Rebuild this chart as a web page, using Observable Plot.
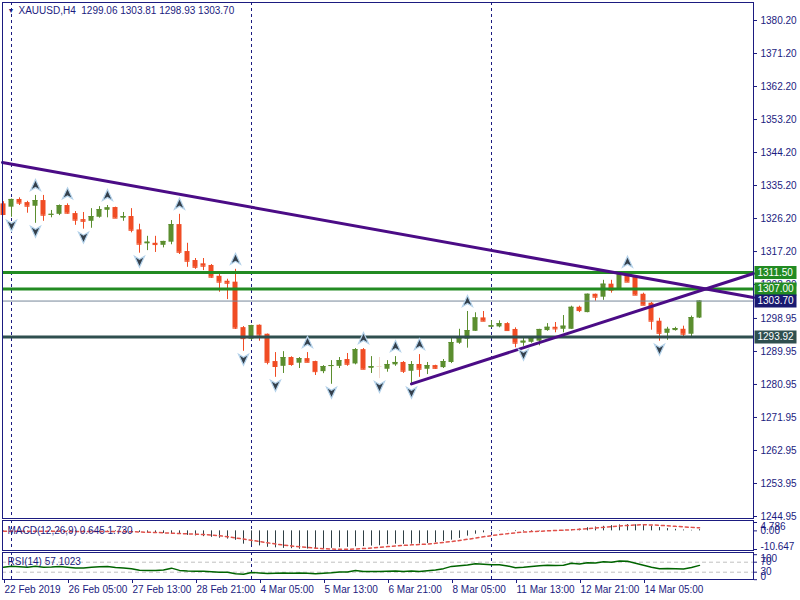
<!DOCTYPE html>
<html><head><meta charset="utf-8">
<script src="https://cdn.jsdelivr.net/npm/d3@7"></script>
<script src="https://cdn.jsdelivr.net/npm/@observablehq/plot@0.6"></script>
<style>
html,body{margin:0;padding:0;background:#fff;}
#chart{position:relative;width:800px;height:600px;overflow:hidden;}
#chart svg{position:absolute;left:0;overflow:visible;}
</style></head><body><div id="chart"></div>
<script>
// ---------- data ----------
const symbolName = "XAUUSD,H4";
const lastQuote = ["1299.06", "1303.81", "1298.93", "1303.70"];

const opens  = [1330.2,1329.3,1331.4,1330.55,1329.55,1331.1,1327.1,1327.35,1329.75,1327.55,1325.9,1325.45,1326.55,1328.45,1329.2,1326.3,1326.75,1323.1,1319.3,1319.45,1318.9,1319.75,1324.55,1317.2,1314.75,1313.85,1313.4,1310.45,1309.1,1308.85,1296.45,1293.3,1297.1,1294.65,1287.2,1285.9,1288.3,1286.75,1288.0,1287.2,1284.45,1285.85,1285.9,1287.75,1286.55,1290.45,1285.35,1285.85,1285.1,1286.3,1286.95,1284.55,1286.4,1285.1,1286.1,1285.55,1286.95,1292.2,1293.3,1295.45,1299.1,1296.55,1296.65,1297.55,1295.95,1292.2,1292.45,1292.75,1295.65,1296.55,1296.0,1296.0,1302.0,1300.55,1305.55,1304.75,1308.3,1306.65,1311.3,1310.2,1305.55,1303.1,1298.2,1294.9,1295.65,1296.0,1294.65,1299.06];
const highs  = [1330.8,1331.5,1331.85,1330.9,1332.5,1332.5,1328.4,1329.9,1330.2,1328.1,1327.85,1328.9,1329.45,1329.75,1329.3,1327.85,1328.9,1324.65,1321.35,1321.35,1320.0,1325.65,1327.35,1319.45,1315.3,1315.3,1313.65,1311.0,1309.65,1312.35,1296.75,1297.1,1297.2,1294.7,1289.65,1289.9,1288.5,1288.3,1289.65,1287.3,1286.1,1287.45,1288.3,1289.4,1290.75,1290.75,1288.55,1288.3,1287.45,1288.55,1287.2,1287.2,1289.1,1286.95,1286.2,1287.75,1293.45,1296.0,1300.85,1300.5,1300.85,1298.3,1298.3,1297.8,1296.4,1293.65,1294.0,1296.0,1297.55,1297.85,1299.75,1302.3,1302.3,1305.6,1305.6,1309.35,1309.35,1311.55,1311.55,1310.25,1305.85,1303.35,1299.0,1296.55,1296.55,1296.85,1299.6,1303.81];
const lows   = [1327.0,1326.55,1329.75,1327.65,1324.9,1325.45,1326.4,1327.0,1327.4,1324.35,1323.3,1323.55,1326.3,1326.4,1326.2,1325.45,1322.3,1316.75,1317.45,1316.95,1318.2,1319.05,1316.4,1312.9,1312.35,1312.0,1309.9,1306.1,1304.1,1295.95,1290.0,1293.0,1292.75,1286.3,1282.9,1283.95,1285.9,1285.3,1286.9,1283.4,1283.9,1281.0,1285.3,1285.9,1286.3,1285.0,1283.95,1282.55,1284.3,1285.9,1283.95,1281.0,1282.9,1283.65,1285.1,1285.3,1286.65,1291.9,1290.85,1295.4,1298.1,1296.4,1296.4,1295.6,1290.95,1291.35,1292.2,1291.5,1295.45,1295.05,1295.05,1296.0,1300.55,1300.5,1303.65,1303.9,1305.85,1306.6,1308.8,1305.2,1302.5,1295.75,1292.75,1293.0,1295.5,1293.85,1293.85,1298.93];
const closes = [1327.3,1331.4,1330.4,1329.55,1331.1,1327.1,1327.35,1329.75,1327.65,1325.75,1325.45,1326.75,1328.65,1329.1,1326.3,1326.75,1323.0,1319.2,1319.75,1319.1,1319.95,1324.55,1317.0,1314.55,1312.9,1313.2,1310.2,1308.85,1308.55,1296.3,1293.45,1297.0,1294.4,1287.0,1285.85,1288.3,1286.4,1288.0,1287.0,1284.45,1285.85,1286.1,1287.45,1286.45,1290.45,1285.1,1285.85,1285.85,1286.4,1286.95,1284.55,1286.4,1285.1,1286.1,1285.35,1287.2,1292.4,1293.55,1295.65,1299.1,1298.2,1296.95,1297.55,1295.65,1292.2,1292.75,1293.55,1295.95,1296.55,1296.1,1296.85,1302.0,1301.1,1305.55,1304.75,1308.3,1306.65,1311.3,1308.85,1305.3,1302.55,1298.2,1294.9,1296.0,1296.2,1294.65,1299.2,1303.70];

const timeLabels = ["22 Feb 2019","26 Feb 05:00","27 Feb 13:00","28 Feb 21:00","4 Mar 05:00","5 Mar 13:00","6 Mar 21:00","8 Mar 05:00","11 Mar 13:00","12 Mar 21:00","14 Mar 05:00"];
const timeLabelBars = [0,8,16,24,32,40,48,56,64,72,80];
const weekStartBars = [1,31,61];

const priceTicks = [1380.20,1371.20,1362.20,1353.20,1344.20,1335.20,1326.20,1317.20,1308.20,1298.95,1289.95,1280.95,1271.95,1262.95,1253.95,1244.95];

const upFractalBars = [4,8,13,22,29,38,45,49,52,58,78];
const downFractalBars = [1,4,10,17,30,34,41,47,51,65,82];

const levelPrices = [1311.50, 1307.00, 1293.92];
const levelColors = ["#228b22", "#228b22", "#2f4f4f"];
const bidPrice = 1303.70;
const bidColor = "#191970";

const trendDownBars = [-0.125, 93.75];
const trendDownPrices = [1341.5, 1304.66];
const trendUpBars = [51, 93.75];
const trendUpPrices = [1281.1, 1311.2];

const macdName = "MACD(12,26,9)";
const macdMain = [-0.3,-0.2,-0.2,-0.2,-0.1,-0.2,-0.3,-0.3,-0.3,-0.4,-0.5,-0.5,-0.4,-0.3,-0.4,-0.4,-0.6,-0.9,-1.1,-1.3,-1.5,-1.5,-1.9,-2.6,-2.9,-3.3,-3.7,-4.2,-4.7,-5.4,-7.6,-8.1,-8.6,-9.4,-9.7,-10.0,-10.2,-10.5,-10.4,-10.3,-10.1,-10.0,-9.6,-9.4,-9.1,-9.0,-8.7,-8.5,-7.9,-7.6,-7.7,-7.6,-7.5,-7.2,-6.8,-6.0,-5.3,-4.3,-3.0,-1.9,-1.1,-0.5,-0.2,-0.1,-0.4,-0.5,-0.4,-0.2,0.0,0.1,0.3,0.7,1.0,1.8,2.2,2.6,3.0,3.4,3.6,3.5,3.2,2.6,1.9,1.3,0.9,0.5,0.3,0.645];
const macdSignal = [-0.2,-0.2,-0.2,-0.2,-0.2,-0.2,-0.2,-0.2,-0.3,-0.3,-0.3,-0.3,-0.3,-0.3,-0.4,-0.4,-0.5,-0.6,-0.8,-0.9,-1.1,-1.3,-1.5,-1.7,-1.9,-2.1,-2.4,-2.8,-3.3,-4.0,-4.7,-5.4,-6.1,-6.8,-7.5,-8.1,-8.6,-9.1,-9.5,-9.9,-10.2,-10.4,-10.5,-10.5,-10.4,-10.1,-9.8,-9.4,-9.0,-8.6,-8.3,-8.0,-7.8,-7.5,-7.1,-6.6,-6.1,-5.5,-4.8,-4.1,-3.4,-2.7,-2.1,-1.6,-1.1,-0.7,-0.4,-0.2,0.0,0.2,0.4,0.6,0.9,1.2,1.6,2.0,2.4,2.8,3.1,3.4,3.5,3.4,3.2,2.9,2.6,2.3,2.0,1.73];
const macdTicks = [4.786, 0, -10.647];
const macdTickLabels = ["4.786", "0.00", "-10.647"];
const macdLast = ["0.645", "1.730"];

const rsiName = "RSI(14)";
const rsiValues = [50,54,52,50,54,50,51,53,50,47,47,50,52,53,49,47,44,38,37,37,39,46,37,35,34,34,32,30,30,24,22,29,27,25,26,27,26,27,26,24,26,28,31,31,37,33,33,33,34,35,33,35,33,36,39,44,53,56,59,64,62,60,60,55,48,50,53,56,58,57,58,66,63,68,67,72,70,75,74,66,58,50,44,45,44,43,49,57.1023];
const rsiLevels = [70, 30];
const rsiTicks = [100, 70, 30, 0];

// ---------- style ----------
const NAVY = "#1b1b80";
const UP = "#5b8e2f", DOWN = "#f04c24", FLAT = "#f3d8cd";
const FONT = "'Liberation Sans', Arial, sans-serif";
const xScale = {domain: [-0.375, 93.75], range: [0, 753], axis: null};
const xEnd = 93.75;

const bars = opens.map((o, i) => ({
  k: i, o, h: highs[i], l: lows[i], c: closes[i],
  col: closes[i] > o ? UP : closes[i] < o ? DOWN : FLAT
}));

const upArrow = {draw(ctx) { ctx.moveTo(0,-6); ctx.lineTo(5,5); ctx.lineTo(0,2); ctx.lineTo(-5,5); ctx.closePath(); }};
const downArrow = {draw(ctx) { ctx.moveTo(0,6); ctx.lineTo(-5,-5); ctx.lineTo(0,-2); ctx.lineTo(5,-5); ctx.closePath(); }};
const box = {draw(ctx) { ctx.rect(-21, -6.5, 42, 13); }};

const levels = levelPrices.map((p, i) => ({p, col: levelColors[i], label: p.toFixed(2)}));
const allLabels = [...levels.slice(0,2), {p: bidPrice, col: bidColor, label: bidPrice.toFixed(2)}, levels[2]];
const trendDown = trendDownBars.map((k, i) => ({k, p: trendDownPrices[i]}));
const trendUp = trendUpBars.map((k, i) => ({k, p: trendUpPrices[i]}));

const baseStyle = {color: NAVY, fontFamily: FONT, fontSize: "10px", background: "transparent", overflow: "visible"};
const root = document.getElementById("chart");

// ---------- main price panel ----------
const main = Plot.plot({
  width: 800, height: 519,
  marginLeft: 2, marginRight: 47, marginTop: 2, marginBottom: 1,
  style: baseStyle,
  x: xScale,
  y: {domain: [1244.95, 1380.20], range: [516, 20], axis: null},
  marks: [
    Plot.ruleX(weekStartBars, {x: d => d, stroke: NAVY, strokeDasharray: "3,3"}),
    Plot.ruleX(bars, {x: "k", y1: "l", y2: "h", stroke: "col"}),
    Plot.rect(bars, {x1: d => d.k - 0.3125, x2: d => d.k + 0.3125, y1: "o", y2: "c", fill: "col"}),
    Plot.ruleY(bars, {y: "c", x1: d => d.k - 0.3125, x2: d => d.k + 0.3125, stroke: "col"}),
    Plot.ruleY([bidPrice], {stroke: "#778899"}),
    Plot.ruleY(levels, {y: "p", stroke: "col", strokeWidth: 3}),
    Plot.line(trendDown, {x: "k", y: "p", stroke: "#4b0c86", strokeWidth: 3}),
    Plot.line(trendUp, {x: "k", y: "p", stroke: "#4b0c86", strokeWidth: 3}),
    Plot.dot(upFractalBars, {x: d => d, y: d => highs[d], dy: -10, symbol: upArrow, fill: "#34404c", stroke: "#b4d2ea", strokeWidth: 1.2}),
    Plot.dot(downFractalBars, {x: d => d, y: d => lows[d], dy: 8, symbol: downArrow, fill: "#34404c", stroke: "#b4d2ea", strokeWidth: 1.2}),
    Plot.frame({stroke: NAVY}),
    Plot.axisY({anchor: "right", label: null, ticks: priceTicks, tickFormat: d => d.toFixed(2), tickSize: 3, tickPadding: 4, fontSize: 10}),
    Plot.dot(allLabels, {x: () => xEnd, y: "p", dx: 22, symbol: box, fill: "col", stroke: null}),
    Plot.text(allLabels, {x: () => xEnd, y: "p", text: "label", dx: 4, textAnchor: "start", fill: "white", fontSize: 10}),
    Plot.text(["▼"], {frameAnchor: "top-left", dx: 5, dy: 8, lineAnchor: "middle", fontSize: 7, fill: NAVY}),
    Plot.text([symbolName + "  " + lastQuote.join(" ")], {frameAnchor: "top-left", dx: 16, dy: 8, lineAnchor: "middle", textAnchor: "start", fill: NAVY, fontSize: 10})
  ]
});
main.style.top = "0px";
root.appendChild(main);

// ---------- MACD panel ----------
const macdData = macdMain.map((v, i) => ({k: i, v, s: macdSignal[i]}));
const macd = Plot.plot({
  width: 800, height: 33,
  marginLeft: 2, marginRight: 47, marginTop: 2, marginBottom: 1,
  style: baseStyle,
  x: xScale,
  y: {domain: [-10.647, 4.786], range: [31, 4], axis: null},
  marks: [
    Plot.ruleX(weekStartBars, {x: d => d, stroke: NAVY, strokeDasharray: "3,3"}),
    Plot.ruleX(macdData, {x: "k", y1: 0, y2: "v", stroke: "#2f3f45"}),
    Plot.line(macdData, {x: "k", y: "s", stroke: "#e0504a", strokeDasharray: "3,3"}),
    Plot.frame({stroke: NAVY}),
    Plot.axisY({anchor: "right", label: null, ticks: macdTicks, tickSize: 3, tickFormat: () => ""}),
    Plot.text([macdTicks[0]], {y: d => d, frameAnchor: "right", dx: 7, textAnchor: "start", lineAnchor: "top", text: () => macdTickLabels[0], fill: NAVY}),
    Plot.text([macdTicks[1]], {y: d => d, frameAnchor: "right", dx: 7, textAnchor: "start", lineAnchor: "middle", text: () => macdTickLabels[1], fill: NAVY}),
    Plot.text([macdTicks[2]], {y: d => d, frameAnchor: "right", dx: 7, textAnchor: "start", lineAnchor: "bottom", text: () => macdTickLabels[2], fill: NAVY}),
    Plot.text([macdName + " " + macdLast.join(" ")], {frameAnchor: "left", dx: 5, dy: -5, textAnchor: "start", fill: NAVY})
  ]
});
macd.style.top = "518px";
root.appendChild(macd);

// ---------- RSI panel + time axis ----------
const rsiData = rsiValues.map((v, i) => ({k: i, v}));
const rsi = Plot.plot({
  width: 800, height: 50,
  marginLeft: 2, marginRight: 47, marginTop: 2, marginBottom: 21,
  style: baseStyle,
  x: xScale,
  y: {domain: [0, 100], range: [29.2, 4.2], axis: null},
  marks: [
    Plot.ruleY(rsiLevels, {stroke: "#c0c0c0", strokeDasharray: "4,3"}),
    Plot.ruleX(weekStartBars, {x: d => d, stroke: NAVY, strokeDasharray: "3,3"}),
    Plot.line(rsiData, {x: "k", y: "v", stroke: "#006400", strokeWidth: 1.4}),
    Plot.frame({stroke: NAVY}),
    Plot.axisY({anchor: "right", label: null, ticks: rsiTicks, tickSize: 3, tickFormat: () => ""}),
    Plot.text([rsiTicks[0]], {y: d => d, frameAnchor: "right", dx: 7, textAnchor: "start", lineAnchor: "top", text: d => String(d), fill: NAVY}),
    Plot.text(rsiTicks.slice(1, 3), {y: d => d, frameAnchor: "right", dx: 7, textAnchor: "start", lineAnchor: "middle", text: d => String(d), fill: NAVY}),
    Plot.text([rsiTicks[3]], {y: d => d, frameAnchor: "right", dx: 7, textAnchor: "start", lineAnchor: "bottom", text: d => String(d), fill: NAVY}),
    Plot.text([rsiName + " " + rsiValues[rsiValues.length - 1].toFixed(4)], {frameAnchor: "left", dx: 5, dy: -4, textAnchor: "start", fill: NAVY}),
    Plot.axisX({anchor: "bottom", label: null, ticks: timeLabelBars, tickFormat: d => timeLabels[timeLabelBars.indexOf(d)], tickSize: 4, tickPadding: 2, textAnchor: "start", dx: 1, fontSize: 10})
  ]
});
rsi.style.top = "550px";
root.appendChild(rsi);
</script></body></html>
